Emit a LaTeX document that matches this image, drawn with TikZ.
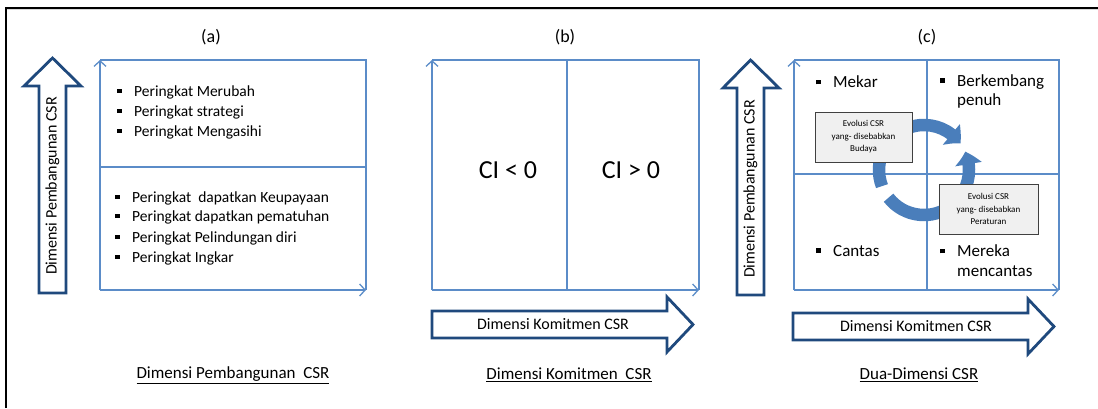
\documentclass[tikz,border=0pt]{standalone}
\usepackage{fontspec}
\setmainfont{Carlito}
\usetikzlibrary{arrows.meta,bending}
\definecolor{axis}{RGB}{91,140,200}
\definecolor{darrow}{RGB}{31,73,125}
\definecolor{cycl}{RGB}{74,126,187}
\definecolor{boxfill}{RGB}{240,240,240}
\newcommand{\bul}{\makebox[17pt][l]{\rule[0.2em]{0.28em}{0.28em}}}
\begin{document}
\begin{tikzpicture}[x=1pt,y=1pt,
 axisline/.style={draw=axis,line width=1.3pt},
 axisarrow/.style={axisline,-{Straight Barb[length=5.5pt,width=12pt,line width=1.3pt]}},
 hollow/.style={draw=darrow,line width=2.8pt,fill=white,line join=miter},
 item/.style={anchor=west,inner sep=0,font=\fontsize{15.5}{19}\selectfont},
 itemc/.style={item,font=\fontsize{17}{20}\selectfont},
 ttl/.style={font=\fontsize{18}{21}\selectfont,inner sep=0},
 captxt/.style={font=\fontsize{17}{20}\selectfont,inner sep=0},
 alabel/.style={font=\fontsize{16}{19}\selectfont,inner sep=0},
 evo/.style={draw=black!75,fill=boxfill,line width=1pt,minimum width=97pt,minimum height=50pt,align=center,font=\fontsize{9}{12.5}\selectfont,inner sep=0},
 ci/.style={font=\fontsize{26}{30}\selectfont,inner sep=0},
 cyc/.style={draw=cycl,line width=12.5pt,-{Triangle[length=13pt,width=26pt,bend]}}]
\useasboundingbox (0,0) rectangle (1098,408);
% frame
\draw[gray!30,line width=1pt] (7,398) -- (1098,398);
\draw[black,line width=1.6pt] (6,0) -- (6,400) -- (1098,400);

% ---------- panel (a)
\coordinate (aBL) at (100,118);
\coordinate (aTL) at (100,348);
\coordinate (aTR) at (366,348);
\coordinate (aBR) at (366,118);
\coordinate (aML) at (100,241);
\coordinate (aMR) at (366,241);
\draw[axisline] (aTL) -- (aTR) -- (aBR);
\draw[axisline] (aML) -- (aMR);
\draw[axisarrow] (aBL) -- (aTL);
\draw[axisarrow] (aBL) -- (aBR);
\node[ttl] (ta) at (211,371) {(a)};
\draw[hollow] (39,115) -- (39,322) -- (24,322) -- (52.5,350) -- (81,322) -- (66,322) -- (66,115) -- cycle;
\node[alabel,rotate=90] (va) at (52.5,222) {Dimensi Pembangunan CSR};
\node[item] (a1) at (117,316) {\bul Peringkat Merubah};
\node[item] (a2) at (117,296) {\bul Peringkat strategi};
\node[item] (a3) at (117,276) {\bul Peringkat Mengasihi};
\node[item] (a4) at (115,210) {\bul Peringkat\ \ dapatkan Keupayaan};
\node[item] (a5) at (115,191) {\bul Peringkat dapatkan pematuhan};
\node[item] (a6) at (115,170) {\bul Peringkat Pelindungan diri};
\node[item] (a7) at (115,150) {\bul Peringkat Ingkar};
\node[captxt] (ca) at (233,33) {\underline{Dimensi Pembangunan\ \ CSR}};

% ---------- panel (b)
\coordinate (bBL) at (432,118);
\coordinate (bTL) at (432,348);
\coordinate (bTR) at (699,348);
\coordinate (bBR) at (699,118);
\coordinate (bTM) at (567,348);
\coordinate (bBM) at (567,118);
\draw[axisline] (bTL) -- (bTR) -- (bBR);
\draw[axisline] (bTM) -- (bBM);
\draw[axisarrow] (bBL) -- (bTL);
\draw[axisarrow] (bBL) -- (bBR);
\node[ttl] (tb) at (565,371) {(b)};
\node[ci] (cil) at (508,238) {CI < 0};
\node[ci] (cig) at (631,238) {CI > 0};
\draw[hollow] (432,97) -- (667,97) -- (667,111) -- (693,83.5) -- (667,56) -- (667,70) -- (432,70) -- cycle;
\node[alabel] (hb) at (553,83.5) {Dimensi Komitmen CSR};
\node[captxt] (cb) at (569,33) {\underline{Dimensi Komitmen\ \ CSR}};

% ---------- panel (c)
\coordinate (cBL) at (794,118);
\coordinate (cTL) at (794,348);
\coordinate (cTR) at (1059,348);
\coordinate (cBR) at (1059,118);
\coordinate (cTM) at (927,348);
\coordinate (cBM) at (927,118);
\coordinate (cML) at (794,234);
\coordinate (cMR) at (1059,234);
\draw[axisline] (cTL) -- (cTR) -- (cBR);
\draw[axisline] (cTM) -- (cBM);
\draw[axisline] (cML) -- (cMR);
\draw[axisarrow] (cBL) -- (cTL);
\draw[axisarrow] (cBL) -- (cBR);
\node[ttl] (tc) at (927,371) {(c)};
\draw[hollow] (737,113) -- (737,320) -- (723,320) -- (750.5,348) -- (779,320) -- (764,320) -- (764,113) -- cycle;
\node[alabel,rotate=90] (vc) at (750.5,219) {Dimensi Pembangunan CSR};
\draw[hollow] (793,95) -- (1028,95) -- (1028,109) -- (1054,81.5) -- (1028,54) -- (1028,68) -- (793,68) -- cycle;
\node[alabel] (hc) at (916,81.5) {Dimensi Komitmen CSR};
\node[itemc] (q1) at (816,326) {\bul Mekar};
\node[itemc] (q2) at (940,326) {\bul Berkembang};
\node[itemc] (q2b) at (957,307) {penuh};
\node[itemc] (q3) at (816,157) {\bul Cantas};
\node[itemc] (q4) at (940,157) {\bul Mereka};
\node[itemc] (q4b) at (957,137) {mencantas};
% cycle arrows
\draw[cyc] ([shift={(924,238)}]201:45) arc[start angle=201, end angle=36, radius=45];
\draw[cyc] ([shift={(924,238)}]218:45) arc[start angle=218, end angle=384, radius=45];
\node[evo] (evo1) at (863.5,271) {Evolusi CSR\\yang- disebabkan\\Budaya};
\node[evo,minimum width=99pt] (evo2) at (988.5,199) {Evolusi CSR\\yang- disebabkan\\Peraturan};
\node[captxt] (cc) at (919,33) {\underline{Dua-Dimensi CSR}};
\end{tikzpicture}
\end{document}
